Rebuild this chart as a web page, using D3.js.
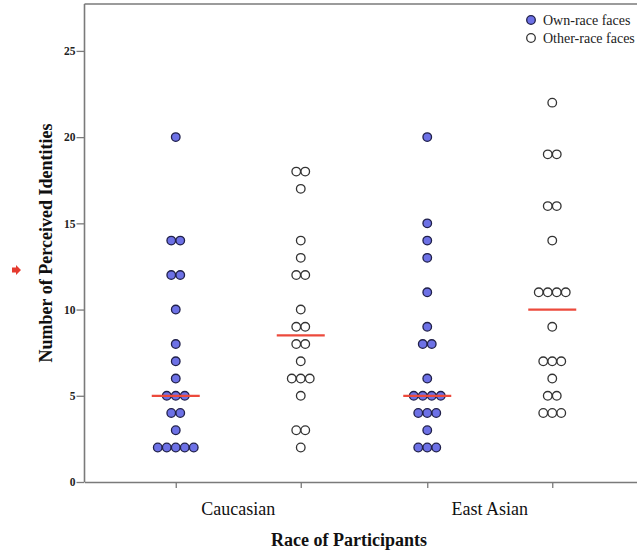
<!DOCTYPE html>
<html>
<head>
<meta charset="utf-8">
<script src="https://cdn.jsdelivr.net/npm/d3@7"></script>
<style>
  html, body { margin: 0; padding: 0; background: #fff; }
  svg { display: block; }
  text { font-family: "Liberation Serif", "Times New Roman", serif; }
</style>
</head>
<body>
<svg id="chart" width="637" height="558"></svg>
<script>
// ---- Data ----
const participantRaces = ["Caucasian", "East Asian"];
const faceTypes = ["own", "other"];
const legendLabels = ["Own-race faces", "Other-race faces"];
const yTicks = [0, 5, 10, 15, 20, 25];

const caucasianOwn   = [20, 14, 14, 12, 12, 10, 8, 7, 6, 5, 5, 5, 4, 4, 3, 2, 2, 2, 2, 2];
const caucasianOther = [18, 18, 17, 14, 13, 12, 12, 10, 9, 9, 8, 8, 7, 6, 6, 6, 5, 3, 3, 2];
const eastAsianOwn   = [20, 15, 14, 13, 11, 9, 8, 8, 6, 5, 5, 5, 5, 4, 4, 4, 3, 2, 2, 2];
const eastAsianOther = [22, 19, 19, 16, 16, 14, 11, 11, 11, 11, 9, 7, 7, 7, 6, 5, 5, 4, 4, 4];

const groups = [
  { race: "Caucasian",  face: "own",   values: caucasianOwn },
  { race: "Caucasian",  face: "other", values: caucasianOther },
  { race: "East Asian", face: "own",   values: eastAsianOwn },
  { race: "East Asian", face: "other", values: eastAsianOther }
];

// ---- Layout ----
const svg = d3.select("#chart");
const axisColor = "#7a7a7a";
const ownFill = "#6d71e6";
const ownStroke = "#20204a";
const otherStroke = "#333";
const medianColor = "#ec4a3c";

const plotLeft = 84.5, plotRight = 650, plotTop = 4, plotBottom = 482;

const y = d3.scaleLinear().domain([0, 27.72]).range([plotBottom, plotTop]);
const xRace = d3.scaleBand().domain(participantRaces).range([112.5, 615.5]).padding(0);
const xFace = d3.scalePoint().domain(faceTypes).range([-62.5, 62.5]);
const colX = d => xRace(d.race) + xRace.bandwidth() / 2 + xFace(d.face);

const dotStep = 9, dotR = 4.3;

// frame top line
svg.append("line")
  .attr("x1", plotLeft).attr("x2", plotRight).attr("y1", plotTop).attr("y2", plotTop)
  .attr("stroke", axisColor).attr("stroke-width", 1.6);

// Y axis
const yAxis = svg.append("g")
  .attr("transform", `translate(${plotLeft},0)`)
  .call(d3.axisLeft(y).tickValues(yTicks).tickSize(8).tickPadding(1).tickSizeOuter(0));
yAxis.select(".domain").attr("stroke", axisColor).attr("stroke-width", 1.6)
  .attr("d", `M0,${plotTop}V${plotBottom}`);
yAxis.selectAll(".tick line").attr("stroke", axisColor).attr("stroke-width", 1.3);
yAxis.selectAll(".tick text")
  .attr("fill", "#222")
  .style("font-family", "'Liberation Serif', serif")
  .style("font-weight", "bold")
  .style("font-size", "11.5px");

// X axis
const tickPositions = groups.map(colX);
const xAxisScale = d3.scaleLinear().domain([plotLeft, plotRight]).range([plotLeft, plotRight]);
const xAxis = svg.append("g")
  .attr("transform", `translate(0,${plotBottom})`)
  .call(d3.axisBottom(xAxisScale).tickValues(tickPositions).tickFormat("").tickSize(6).tickSizeOuter(0));
xAxis.select(".domain").attr("stroke", axisColor).attr("stroke-width", 1.6);
xAxis.selectAll(".tick line").attr("stroke", axisColor).attr("stroke-width", 1.3);

// Category labels
svg.selectAll(".cat").data(participantRaces).enter().append("text")
  .attr("class", "cat")
  .attr("x", d => xRace(d) + xRace.bandwidth() / 2)
  .attr("y", 515)
  .attr("text-anchor", "middle")
  .attr("fill", "#111")
  .style("font-size", "18px")
  .text(d => d);

// Axis titles
svg.append("text")
  .attr("x", 349).attr("y", 546)
  .attr("text-anchor", "middle")
  .attr("fill", "#111")
  .style("font-size", "18px").style("font-weight", "bold")
  .text("Race of Participants");

svg.append("text")
  .attr("transform", "translate(52,243) rotate(-90)")
  .attr("text-anchor", "middle")
  .attr("fill", "#111")
  .style("font-size", "18px").style("font-weight", "bold")
  .text("Number of Perceived Identities");

// small red arrow marker on the left
svg.append("path")
  .attr("d", "M12,267.5 L16,267.5 L16,265 L21,270 L16,275 L16,272.5 L12,272.5 Z")
  .attr("fill", "#e53a2f");

// Dots
groups.forEach(g => {
  const counts = d3.rollup(g.values, v => v.length, v => v);
  const pts = [];
  counts.forEach((n, val) => {
    for (let i = 0; i < n; i++) {
      pts.push({ val, off: (i - (n - 1) / 2) * dotStep });
    }
  });
  const cx = colX(g);
  svg.append("g").selectAll("circle").data(pts).enter().append("circle")
    .attr("cx", d => cx + d.off)
    .attr("cy", d => y(d.val))
    .attr("r", dotR)
    .attr("fill", g.face === "own" ? ownFill : "#fff")
    .attr("stroke", g.face === "own" ? ownStroke : otherStroke)
    .attr("stroke-width", 1.3);

  const med = d3.median(g.values);
  svg.append("line")
    .attr("x1", cx - 24).attr("x2", cx + 24)
    .attr("y1", y(med)).attr("y2", y(med))
    .attr("stroke", medianColor).attr("stroke-width", 2.2);
});

// Legend
const legend = svg.append("g");
legendLabels.forEach((lab, i) => {
  const ly = 20 + i * 18;
  legend.append("circle")
    .attr("cx", 531).attr("cy", ly)
    .attr("r", 4.3)
    .attr("fill", i === 0 ? ownFill : "#fff")
    .attr("stroke", i === 0 ? ownStroke : otherStroke)
    .attr("stroke-width", 1.3);
  legend.append("text")
    .attr("x", 543).attr("y", ly + 4.5)
    .attr("fill", "#222")
    .style("font-size", "14px")
    .text(lab);
});
</script>
</body>
</html>
